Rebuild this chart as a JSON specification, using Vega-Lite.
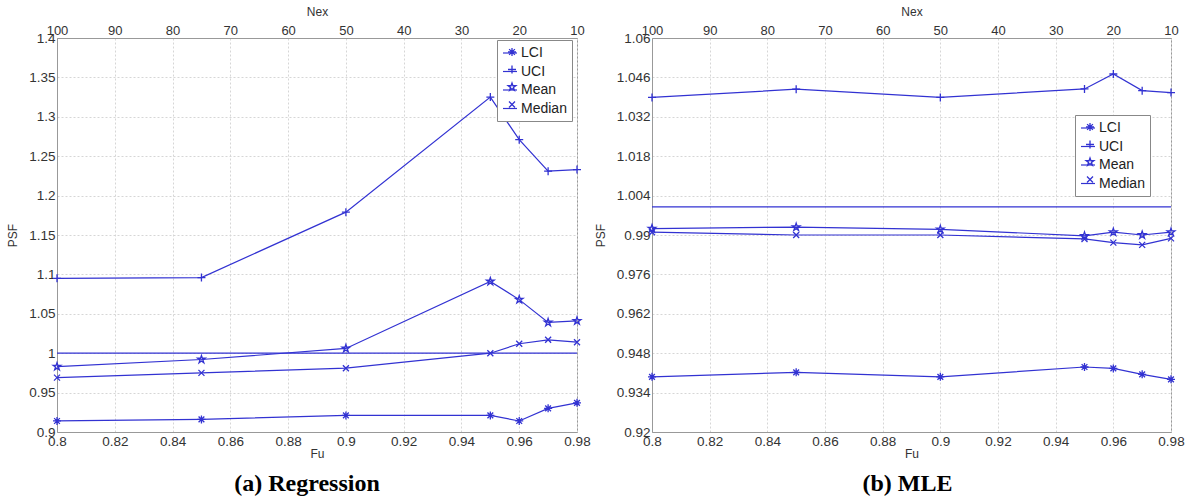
{
  "$schema": "https://vega.github.io/schema/vega-lite/v6.json",
  "padding": {"left": 6, "top": 4, "right": 5, "bottom": 3},
  "background": "white",
  "datasets": {
    "reg": [
      {"Fu": 0.8, "Nex": 100, "series": "LCI", "PSF": 0.914},
      {"Fu": 0.85, "Nex": 75, "series": "LCI", "PSF": 0.916},
      {"Fu": 0.9, "Nex": 50, "series": "LCI", "PSF": 0.921},
      {"Fu": 0.95, "Nex": 25, "series": "LCI", "PSF": 0.921},
      {"Fu": 0.96, "Nex": 20, "series": "LCI", "PSF": 0.914},
      {"Fu": 0.97, "Nex": 15, "series": "LCI", "PSF": 0.930},
      {"Fu": 0.98, "Nex": 10, "series": "LCI", "PSF": 0.937},
      {"Fu": 0.8, "Nex": 100, "series": "UCI", "PSF": 1.095},
      {"Fu": 0.85, "Nex": 75, "series": "UCI", "PSF": 1.096},
      {"Fu": 0.9, "Nex": 50, "series": "UCI", "PSF": 1.179},
      {"Fu": 0.95, "Nex": 25, "series": "UCI", "PSF": 1.325},
      {"Fu": 0.96, "Nex": 20, "series": "UCI", "PSF": 1.271},
      {"Fu": 0.97, "Nex": 15, "series": "UCI", "PSF": 1.231},
      {"Fu": 0.98, "Nex": 10, "series": "UCI", "PSF": 1.233},
      {"Fu": 0.8, "Nex": 100, "series": "Mean", "PSF": 0.983},
      {"Fu": 0.85, "Nex": 75, "series": "Mean", "PSF": 0.992},
      {"Fu": 0.9, "Nex": 50, "series": "Mean", "PSF": 1.006},
      {"Fu": 0.95, "Nex": 25, "series": "Mean", "PSF": 1.091},
      {"Fu": 0.96, "Nex": 20, "series": "Mean", "PSF": 1.068},
      {"Fu": 0.97, "Nex": 15, "series": "Mean", "PSF": 1.039},
      {"Fu": 0.98, "Nex": 10, "series": "Mean", "PSF": 1.041},
      {"Fu": 0.8, "Nex": 100, "series": "Median", "PSF": 0.969},
      {"Fu": 0.85, "Nex": 75, "series": "Median", "PSF": 0.975},
      {"Fu": 0.9, "Nex": 50, "series": "Median", "PSF": 0.981},
      {"Fu": 0.95, "Nex": 25, "series": "Median", "PSF": 1.000},
      {"Fu": 0.96, "Nex": 20, "series": "Median", "PSF": 1.012},
      {"Fu": 0.97, "Nex": 15, "series": "Median", "PSF": 1.017},
      {"Fu": 0.98, "Nex": 10, "series": "Median", "PSF": 1.014}
    ],
    "mle": [
      {"Fu": 0.8, "Nex": 100, "series": "LCI", "PSF": 0.9396},
      {"Fu": 0.85, "Nex": 75, "series": "LCI", "PSF": 0.9412},
      {"Fu": 0.9, "Nex": 50, "series": "LCI", "PSF": 0.9396},
      {"Fu": 0.95, "Nex": 25, "series": "LCI", "PSF": 0.9431},
      {"Fu": 0.96, "Nex": 20, "series": "LCI", "PSF": 0.9426},
      {"Fu": 0.97, "Nex": 15, "series": "LCI", "PSF": 0.9405},
      {"Fu": 0.98, "Nex": 10, "series": "LCI", "PSF": 0.9387},
      {"Fu": 0.8, "Nex": 100, "series": "UCI", "PSF": 1.0389},
      {"Fu": 0.85, "Nex": 75, "series": "UCI", "PSF": 1.0418},
      {"Fu": 0.9, "Nex": 50, "series": "UCI", "PSF": 1.0389},
      {"Fu": 0.95, "Nex": 25, "series": "UCI", "PSF": 1.0419},
      {"Fu": 0.96, "Nex": 20, "series": "UCI", "PSF": 1.0472},
      {"Fu": 0.97, "Nex": 15, "series": "UCI", "PSF": 1.0413},
      {"Fu": 0.98, "Nex": 10, "series": "UCI", "PSF": 1.0406},
      {"Fu": 0.8, "Nex": 100, "series": "Mean", "PSF": 0.9923},
      {"Fu": 0.85, "Nex": 75, "series": "Mean", "PSF": 0.9928},
      {"Fu": 0.9, "Nex": 50, "series": "Mean", "PSF": 0.9920},
      {"Fu": 0.95, "Nex": 25, "series": "Mean", "PSF": 0.9897},
      {"Fu": 0.96, "Nex": 20, "series": "Mean", "PSF": 0.9910},
      {"Fu": 0.97, "Nex": 15, "series": "Mean", "PSF": 0.9900},
      {"Fu": 0.98, "Nex": 10, "series": "Mean", "PSF": 0.9910},
      {"Fu": 0.8, "Nex": 100, "series": "Median", "PSF": 0.9910},
      {"Fu": 0.85, "Nex": 75, "series": "Median", "PSF": 0.9900},
      {"Fu": 0.9, "Nex": 50, "series": "Median", "PSF": 0.9900},
      {"Fu": 0.95, "Nex": 25, "series": "Median", "PSF": 0.9886},
      {"Fu": 0.96, "Nex": 20, "series": "Median", "PSF": 0.9873},
      {"Fu": 0.97, "Nex": 15, "series": "Median", "PSF": 0.9865},
      {"Fu": 0.98, "Nex": 10, "series": "Median", "PSF": 0.9888}
    ]
  },
  "spacing": 2,
  "resolve": {"scale": {"color": "independent", "shape": "independent"}},
  "hconcat": [
    {
      "width": 520,
      "height": 394,
      "title": {"text": "(a) Regression", "orient": "bottom", "offset": 12, "dx": -10},
      "resolve": {"scale": {"x": "independent"}},
      "layer": [
        {
          "encoding": {
            "y": {"field": "PSF", "type": "quantitative", "scale": {"domain": [0.9, 1.4], "nice": false, "zero": false},
                  "axis": {"values": [0.9, 0.95, 1, 1.05, 1.1, 1.15, 1.2, 1.25, 1.3, 1.35, 1.4], "labelExpr": "'' + datum.value", "title": "PSF", "titlePadding": 9, "grid": true}}
          },
          "layer": [
            {
              "data": {"values": [{"PSF": 1}]},
              "mark": {"type": "rule", "color": "#3232d2", "strokeWidth": 1.2},
              "encoding": {}
            },
            {
              "data": {"name": "reg"},
              "mark": {"type": "line", "strokeWidth": 1.2},
              "encoding": {
                "x": {"field": "Fu", "type": "quantitative", "scale": {"domain": [0.8, 0.98], "nice": false, "zero": false},
                      "axis": {"orient": "bottom", "values": [0.8, 0.82, 0.84, 0.86, 0.88, 0.9, 0.92, 0.94, 0.96, 0.98], "labelExpr": "'' + datum.value", "title": "Fu", "titlePadding": 1, "grid": true}},
                "color": {"field": "series", "type": "nominal",
                          "scale": {"domain": ["LCI", "UCI", "Mean", "Median"], "range": ["#3232d2", "#3232d2", "#3232d2", "#3232d2"]},
                          "legend": {"orient": "none", "legendX": 440, "legendY": 2, "title": null, "symbolType": "stroke", "symbolSize": 196, "symbolStrokeWidth": 1.2,
                                     "strokeColor": "#888", "fillColor": "#ffffff", "padding": 5, "rowPadding": 3.5, "labelFontSize": 14, "labelFont": "Liberation Sans", "labelColor": "#222", "labelOffset": 3}}
              }
            },
            {
              "data": {"name": "reg"},
              "mark": {"type": "point", "filled": false, "strokeWidth": 1.3, "size": 64, "color": "#3232d2", "opacity": 1},
              "encoding": {
                "x": {"field": "Fu", "type": "quantitative"},
                "shape": {"field": "series", "type": "nominal", "sort": ["LCI", "UCI", "Mean", "Median"],
                          "scale": {"range": [
                            "M-1,0L1,0M0,-1L0,1M-0.72,-0.72L0.72,0.72M-0.72,0.72L0.72,-0.72",
                            "M-1,0L1,0M0,-1L0,1",
                            "M0,-1L0.225,-0.309L0.951,-0.309L0.363,0.118L0.588,0.809L0,0.382L-0.588,0.809L-0.363,0.118L-0.951,-0.309L-0.225,-0.309Z",
                            "M-0.75,-0.75L0.75,0.75M-0.75,0.75L0.75,-0.75"]},
                          "legend": {"orient": "none", "legendX": 443, "legendY": 2, "title": null, "symbolSize": 64, "symbolStrokeWidth": 1.3,
                                     "symbolStrokeColor": "#3232d2", "symbolFillColor": "transparent", "padding": 5, "rowPadding": 3.5, "labelFontSize": 14, "labelFont": "Liberation Sans", "labelOpacity": 0, "zindex": 2}}
              }
            }
          ]
        },
        {
          "data": {"name": "reg"},
          "mark": {"type": "point", "opacity": 0},
          "encoding": {
            "x": {"field": "Nex", "type": "quantitative", "scale": {"domain": [10, 100], "reverse": true, "nice": false, "zero": false},
                  "axis": {"orient": "top", "values": [100, 90, 80, 70, 60, 50, 40, 30, 20, 10], "title": "Nex", "grid": false, "titlePadding": 6, "labelPadding": 1, "labelFontSize": 13}}
          }
        }
      ]
    },
    {
      "width": 519,
      "height": 394,
      "title": {"text": "(b) MLE", "orient": "bottom", "offset": 12, "dx": -4},
      "resolve": {"scale": {"x": "independent"}},
      "layer": [
        {
          "encoding": {
            "y": {"field": "PSF", "type": "quantitative", "scale": {"domain": [0.92, 1.06], "nice": false, "zero": false},
                  "axis": {"values": [0.92, 0.934, 0.948, 0.962, 0.976, 0.99, 1.004, 1.018, 1.032, 1.046, 1.06], "labelExpr": "'' + datum.value", "title": "PSF", "titlePadding": 9, "grid": true}}
          },
          "layer": [
            {
              "data": {"values": [{"PSF": 1}]},
              "mark": {"type": "rule", "color": "#3232d2", "strokeWidth": 1.2},
              "encoding": {}
            },
            {
              "data": {"name": "mle"},
              "mark": {"type": "line", "strokeWidth": 1.2},
              "encoding": {
                "x": {"field": "Fu", "type": "quantitative", "scale": {"domain": [0.8, 0.98], "nice": false, "zero": false},
                      "axis": {"orient": "bottom", "values": [0.8, 0.82, 0.84, 0.86, 0.88, 0.9, 0.92, 0.94, 0.96, 0.98], "labelExpr": "'' + datum.value", "title": "Fu", "titlePadding": 1, "grid": true}},
                "color": {"field": "series", "type": "nominal",
                          "scale": {"domain": ["LCI", "UCI", "Mean", "Median"], "range": ["#3232d2", "#3232d2", "#3232d2", "#3232d2"]},
                          "legend": {"orient": "none", "legendX": 423, "legendY": 77, "title": null, "symbolType": "stroke", "symbolSize": 196, "symbolStrokeWidth": 1.2,
                                     "strokeColor": "#888", "fillColor": "#ffffff", "padding": 5, "rowPadding": 3.5, "labelFontSize": 14, "labelFont": "Liberation Sans", "labelColor": "#222", "labelOffset": 3}}
              }
            },
            {
              "data": {"name": "mle"},
              "mark": {"type": "point", "filled": false, "strokeWidth": 1.3, "size": 64, "color": "#3232d2", "opacity": 1},
              "encoding": {
                "x": {"field": "Fu", "type": "quantitative"},
                "shape": {"field": "series", "type": "nominal", "sort": ["LCI", "UCI", "Mean", "Median"],
                          "scale": {"range": [
                            "M-1,0L1,0M0,-1L0,1M-0.72,-0.72L0.72,0.72M-0.72,0.72L0.72,-0.72",
                            "M-1,0L1,0M0,-1L0,1",
                            "M0,-1L0.225,-0.309L0.951,-0.309L0.363,0.118L0.588,0.809L0,0.382L-0.588,0.809L-0.363,0.118L-0.951,-0.309L-0.225,-0.309Z",
                            "M-0.75,-0.75L0.75,0.75M-0.75,0.75L0.75,-0.75"]},
                          "legend": {"orient": "none", "legendX": 426, "legendY": 77, "title": null, "symbolSize": 64, "symbolStrokeWidth": 1.3,
                                     "symbolStrokeColor": "#3232d2", "symbolFillColor": "transparent", "padding": 5, "rowPadding": 3.5, "labelFontSize": 14, "labelFont": "Liberation Sans", "labelOpacity": 0, "zindex": 2}}
              }
            }
          ]
        },
        {
          "data": {"name": "mle"},
          "mark": {"type": "point", "opacity": 0},
          "encoding": {
            "x": {"field": "Nex", "type": "quantitative", "scale": {"domain": [10, 100], "reverse": true, "nice": false, "zero": false},
                  "axis": {"orient": "top", "values": [100, 90, 80, 70, 60, 50, 40, 30, 20, 10], "title": "Nex", "grid": false, "titlePadding": 6, "labelPadding": 1, "labelFontSize": 13}}
          }
        }
      ]
    }
  ],
  "config": {
    "font": "Liberation Sans",
    "view": {"stroke": "#999", "strokeWidth": 1},
    "axis": {
      "labelFont": "Liberation Sans", "labelFontSize": 13.5, "labelColor": "#333", "labelFlush": false, "labelOverlap": false, "labelPadding": 2,
      "titleFont": "Liberation Sans", "titleFontSize": 12, "titleFontWeight": "normal", "titleColor": "#333",
      "domainColor": "#999", "gridColor": "#d6d6d6", "gridDash": [2, 2], "ticks": false
    },
    "title": {"font": "Liberation Serif", "fontSize": 24, "fontWeight": "bold", "color": "#000", "anchor": "middle"}
  }
}
